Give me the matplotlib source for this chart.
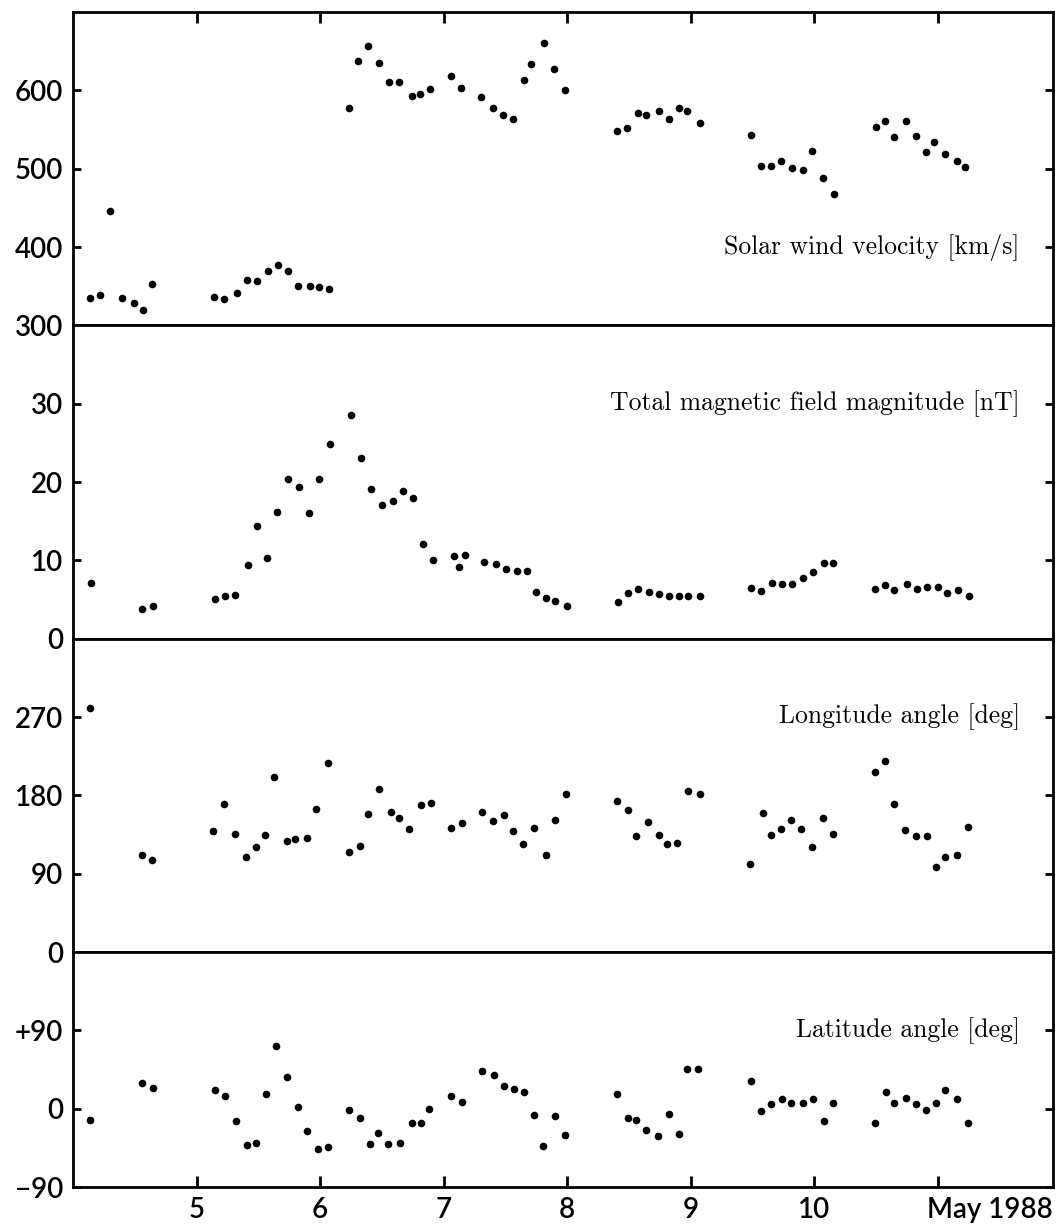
import matplotlib
matplotlib.use("Agg")
import matplotlib.pyplot as plt

plt.rcParams['font.family'] = ['Lato', 'DejaVu Sans']

# solar wind velocity [km/s]
t_vel = [4.14, 4.22, 4.30, 4.40, 4.49, 4.57, 4.64,
         5.14, 5.22, 5.33, 5.41, 5.49, 5.58, 5.66, 5.74, 5.82, 5.92, 5.99, 6.07,
         6.23, 6.31, 6.39, 6.48, 6.56, 6.64, 6.74, 6.81, 6.89, 7.06, 7.14, 7.30,
         7.40, 7.48, 7.56, 7.65, 7.71, 7.81, 7.89, 7.98,
         8.40, 8.48, 8.57, 8.64, 8.74, 8.82, 8.90, 8.97, 9.07,
         9.49, 9.57, 9.65, 9.73, 9.82, 9.91, 9.98, 10.07, 10.16,
         10.50, 10.57, 10.64, 10.74, 10.82, 10.90, 10.97, 11.06, 11.15, 11.22]
vel = [335, 339, 446, 335, 329, 319, 353,
       336, 334, 341, 358, 356, 369, 377, 369, 350, 350, 349, 346,
       578, 638, 657, 635, 611, 611, 593, 595, 602, 618, 603, 591,
       578, 568, 563, 613, 633, 660, 627, 600,
       548, 552, 571, 569, 574, 564, 577, 573, 558,
       543, 504, 503, 510, 501, 498, 522, 488, 468,
       553, 561, 541, 561, 542, 521, 534, 519, 510, 502]

# total magnetic field [nT]
t_mag = [4.15, 4.56, 4.65,
         5.15, 5.23, 5.31, 5.42, 5.49, 5.57, 5.65, 5.74, 5.83, 5.91, 5.99, 6.08,
         6.25, 6.33, 6.41, 6.50, 6.59, 6.67, 6.75, 6.83, 6.91, 7.08, 7.12, 7.17,
         7.33, 7.42, 7.50, 7.59, 7.67, 7.75, 7.83, 7.90, 8.00,
         8.41, 8.49, 8.57, 8.66, 8.74, 8.82, 8.90, 8.98, 9.07,
         9.49, 9.57, 9.66, 9.74, 9.82, 9.91, 9.99, 10.08, 10.15,
         10.49, 10.57, 10.64, 10.75, 10.83, 10.91, 11.00, 11.07, 11.16, 11.25]
mag = [7.1, 3.8, 4.2,
       5.1, 5.5, 5.6, 9.4, 14.4, 10.3, 16.2, 20.4, 19.3, 16.0, 20.4, 24.9,
       28.5, 23.1, 19.1, 17.1, 17.6, 18.9, 18.0, 12.1, 10.1, 10.5, 9.2, 10.7,
       9.8, 9.5, 8.9, 8.7, 8.6, 5.9, 5.2, 4.8, 4.2,
       4.7, 5.8, 6.3, 6.0, 5.7, 5.5, 5.4, 5.4, 5.4,
       6.5, 6.1, 7.1, 7.0, 7.0, 7.7, 8.5, 9.7, 9.6,
       6.4, 6.8, 6.2, 7.0, 6.4, 6.6, 6.6, 5.8, 6.2, 5.4]

# longitude angle [deg]
t_lon = [4.14, 4.56, 4.64,
         5.13, 5.22, 5.31, 5.40, 5.48, 5.55, 5.63, 5.73, 5.80, 5.89, 5.97, 6.06,
         6.23, 6.32, 6.39, 6.48, 6.57, 6.64, 6.72, 6.82, 6.90, 7.06, 7.15, 7.31,
         7.40, 7.49, 7.56, 7.64, 7.73, 7.83, 7.90, 7.99,
         8.40, 8.49, 8.56, 8.65, 8.74, 8.81, 8.89, 8.98, 9.07,
         9.48, 9.58, 9.65, 9.73, 9.81, 9.89, 9.98, 10.07, 10.15,
         10.49, 10.57, 10.64, 10.73, 10.82, 10.91, 10.98, 11.06, 11.15, 11.24]
lon = [280, 112, 106,
       139, 170, 136, 109, 121, 134, 201, 127, 130, 131, 164, 217,
       115, 122, 158, 187, 161, 154, 141, 169, 171, 142, 148, 161,
       150, 157, 139, 124, 143, 112, 152, 182,
       173, 163, 133, 149, 135, 124, 125, 185, 181,
       101, 160, 134, 141, 152, 141, 121, 154, 136,
       207, 219, 170, 140, 133, 133, 98, 109, 112, 144]

# latitude angle [deg]
t_lat = [4.14, 4.56, 4.65,
         5.15, 5.23, 5.32, 5.41, 5.48, 5.56, 5.64, 5.73, 5.82, 5.89, 5.98, 6.06,
         6.23, 6.32, 6.40, 6.47, 6.55, 6.65, 6.74, 6.82, 6.88, 7.06, 7.15, 7.31,
         7.41, 7.49, 7.57, 7.65, 7.73, 7.80, 7.90, 7.98,
         8.40, 8.49, 8.56, 8.64, 8.73, 8.82, 8.90, 8.97, 9.06,
         9.49, 9.57, 9.65, 9.74, 9.81, 9.91, 9.99, 10.08, 10.15,
         10.49, 10.58, 10.64, 10.74, 10.82, 10.90, 10.98, 11.06, 11.15, 11.24]
lat = [-13, 29, 24,
       22, 14, -14, -42, -39, 17, 72, 36, 2, -26, -46, -44,
       -1, -11, -41, -28, -41, -39, -17, -17, 0, 15, 8, 43,
       39, 26, 23, 19, -7, -43, -8, -30,
       17, -11, -13, -24, -31, -6, -29, 46, 46,
       32, -3, 5, 11, 7, 7, 11, -14, 7,
       -16, 19, 7, 12, 5, -2, 7, 21, 11, -16]

panels = [
    (t_vel, vel, (300, 700), [300, 400, 500, 600], ['300', '400', '500', '600'],
     400, 'Solar wind velocity [km/s]'),
    (t_mag, mag, (0, 40), [0, 10, 20, 30], ['0', '10', '20', '30'],
     30, 'Total magnetic field magnitude [nT]'),
    (t_lon, lon, (0, 360), [0, 90, 180, 270], ['0', '90', '180', '270'],
     270, 'Longitude angle [deg]'),
    (t_lat, lat, (-90, 180), [-90, 0, 90], ['\u221290', '0', '+90'],
     90, 'Latitude angle [deg]'),
]

day_ticks = [5, 6, 7, 8, 9, 10, 11]
day_labels = ['5', '6', '7', '8', '9', '10', '']

fig = plt.figure(figsize=(10.62, 12.26), dpi=100)
gs = fig.add_gridspec(4, 1, height_ratios=[4, 4, 4, 3], hspace=0,
                      left=0.0687, right=0.9915, top=0.9902, bottom=0.0318)

axes = []
for i, (t, y, ylim, yt, ytl, ylab, label) in enumerate(panels):
    ax = fig.add_subplot(gs[i], sharex=axes[0] if axes else None)
    axes.append(ax)
    ax.plot(t, y, 'o', color='black', ms=5.5, mec='none')
    ax.set_ylim(*ylim)
    ax.set_xlim(4.0, 11.93)
    ax.set_yticks(yt)
    ax.set_yticklabels(ytl)
    for s in ax.spines.values():
        s.set_linewidth(2.0)
    ax.tick_params(axis='y', direction='in', length=6, width=2.0,
                   left=True, right=True, labelsize=20, pad=7)
    ax.tick_params(axis='x', direction='in', length=8, width=2.0,
                   top=False, bottom=False, labelbottom=False)
    ax.text(0.966, ylab, label, transform=ax.get_yaxis_transform(),
            ha='right', va='center', fontsize=18.5, family='cmr10')
    for lbl in ax.get_yticklabels():
        lbl.set_fontweight('semibold')

axes[0].set_xticks(day_ticks)
axes[0].tick_params(axis='x', top=True)
axes[3].tick_params(axis='x', bottom=True, labelbottom=True, labelsize=20, pad=7)
axes[3].set_xticklabels(day_labels)
for lbl in axes[3].get_xticklabels():
    lbl.set_fontweight('semibold')
axes[3].annotate('May 1988', xy=(1.0, 0.0), xycoords='axes fraction',
                 xytext=(0, -7), textcoords='offset points',
                 ha='right', va='top', fontsize=20, fontweight='semibold')

fig.savefig('out.png', dpi=100)
